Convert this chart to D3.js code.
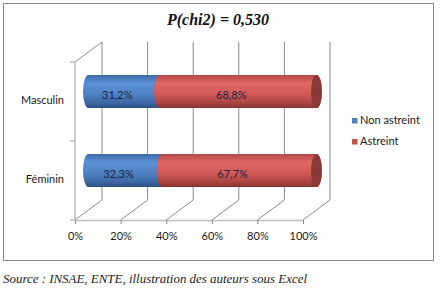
<html>
<head>
<meta charset="utf-8">
<script src="https://d3js.org/d3.v7.min.js"></script>
<style>
  body { margin: 0; background: #fff; }
  .lbl { font-family: Lato, "Noto Sans", sans-serif; font-size: 11px; fill: #1a1a1a; }
  .title { font-family: "Liberation Serif", serif; font-style: italic; font-weight: bold; font-size: 16px; fill: #111; text-anchor: middle; }
  .source { font-family: "Liberation Serif", serif; font-style: italic; font-size: 12.5px; fill: #222; }
</style>
</head>
<body>
<svg id="chart" width="444" height="297"></svg>
<script>
const categories = ["Masculin", "Féminin"];
const nonAstreint = [31.2, 32.3];
const astreint = [68.8, 67.7];
const seriesNames = ["Non astreint", "Astreint"];
const xTicks = [0, 20, 40, 60, 80, 100];

const svg = d3.select("svg#chart");
const depth = {dx: 27, dy: -20};

// front plane scales
const x = d3.scaleLinear().domain([0, 100]).range([75, 303]);
const y = d3.scaleBand().domain(categories).range([62, 220]);

const defs = svg.append("defs");
function grad(id, stops) {
  const g = defs.append("linearGradient").attr("id", id)
    .attr("x1", 0).attr("y1", 0).attr("x2", 0).attr("y2", 1);
  stops.forEach(s => g.append("stop").attr("offset", s[0]).attr("stop-color", s[1]));
}
grad("gBlue", [[0, "#3d6ba6"], [0.25, "#5b90d4"], [0.55, "#5084c5"], [0.85, "#3d67a3"], [1, "#2a4f82"]]);
grad("gRed", [[0, "#b04a47"], [0.25, "#e06664"], [0.55, "#d35b59"], [0.85, "#a94441"], [1, "#853330"]]);
const fills = ["url(#gBlue)", "url(#gRed)"];
const capFill = ["#3b64a0", "#8a3937"];

// border
svg.append("rect").attr("x", 3.5).attr("y", 3.5).attr("width", 430).attr("height", 257)
  .attr("fill", "#fff").attr("stroke", "#878787");

svg.append("text").attr("class", "title").attr("x", 218).attr("y", 25).text("P(chi2) = 0,530");

// back wall gridlines and floor diagonals
const grid = svg.append("g").attr("stroke", "#8a8a8a").attr("stroke-width", 1);
xTicks.forEach(t => {
  const fx = x(t), bx = x(t) + depth.dx;
  const floorY = y.range()[1], backY = floorY + depth.dy, topY = y.range()[0] + depth.dy;
  grid.append("line").attr("x1", bx).attr("y1", backY).attr("x2", bx).attr("y2", topY);
  grid.append("line").attr("x1", fx).attr("y1", floorY).attr("x2", bx).attr("y2", backY);
});
// top of left wall
grid.append("line").attr("x1", x(0)).attr("y1", y.range()[0])
  .attr("x2", x(0) + depth.dx).attr("y2", y.range()[0] + depth.dy);

// left wall front edge + ticks
const left = svg.append("g").attr("stroke", "#bdbdbd").attr("stroke-width", 1.5);
left.append("line").attr("x1", x(0)).attr("y1", y.range()[0]).attr("x2", x(0)).attr("y2", y.range()[1]);
[y.range()[0], y("Féminin"), y.range()[1]].forEach(v => {
  left.append("line").attr("x1", x(0) - 5).attr("y1", v).attr("x2", x(0)).attr("y2", v);
});

// floor front edge axis
const xAxis = d3.axisBottom(x).tickValues(xTicks).tickSize(4).tickSizeOuter(0)
  .tickPadding(8).tickFormat(d => d + "%");
const ax = svg.append("g").attr("transform", `translate(0,${y.range()[1]})`).call(xAxis);
ax.select(".domain").attr("stroke", "#bdbdbd").attr("stroke-width", 1.5);
ax.selectAll(".tick line").attr("stroke", "#8a8a8a");
ax.selectAll(".tick text").attr("class", "lbl").style("font-size", "11px").attr("fill", "#1a1a1a");

// category labels
svg.selectAll(".cat").data(categories).join("text")
  .attr("class", "lbl").attr("text-anchor", "end").attr("dominant-baseline", "middle")
  .attr("x", 64).attr("y", d => y(d) + y.bandwidth() / 2).text(d => d);

// cylinders
const rx = 5.5, ry = 16.5;
const mx = depth.dx / 2, my = depth.dy / 2;
categories.forEach((c, i) => {
  const vals = [nonAstreint[i], astreint[i]];
  const cy = y(c) + y.bandwidth() / 2 + my;
  let acc = 0;
  vals.forEach((v, s) => {
    const xa = x(acc) + mx, xb = x(acc + v) + mx;
    svg.append("path")
      .attr("d", `M${xa},${cy - ry} L${xb},${cy - ry} A${rx},${ry} 0 0 1 ${xb},${cy + ry} L${xa},${cy + ry} A${rx},${ry} 0 0 1 ${xa},${cy - ry} Z`)
      .attr("fill", fills[s]);
    svg.append("ellipse").attr("cx", xb).attr("cy", cy).attr("rx", rx).attr("ry", ry)
      .attr("fill", capFill[s]);
    // label at quarter depth
    const lx = (x(acc) + x(acc + v)) / 2 + depth.dx / 4;
    svg.append("text").attr("class", "lbl").attr("text-anchor", "middle").attr("dominant-baseline", "middle")
      .attr("x", lx).attr("y", y(c) + y.bandwidth() / 2 + depth.dy / 4)
      .style("fill", "#1b2340")
      .text(d3.format(".1f")(v).replace(".", ",") + "%");
    acc += v;
  });
});

// legend
const legend = svg.append("g").attr("transform", "translate(352,118)");
seriesNames.forEach((n, i) => {
  legend.append("rect").attr("x", 0).attr("y", i * 21).attr("width", 5.5).attr("height", 5.5)
    .attr("fill", ["#4f81bd", "#c0504d"][i]);
  legend.append("text").attr("class", "lbl").attr("x", 8).attr("y", i * 21 + 6).text(n);
});

svg.append("text").attr("class", "source").attr("x", 3).attr("y", 283)
  .attr("textLength", 304).attr("lengthAdjust", "spacingAndGlyphs")
  .text("Source : INSAE, ENTE,  illustration des auteurs sous Excel");
</script>
</body>
</html>
